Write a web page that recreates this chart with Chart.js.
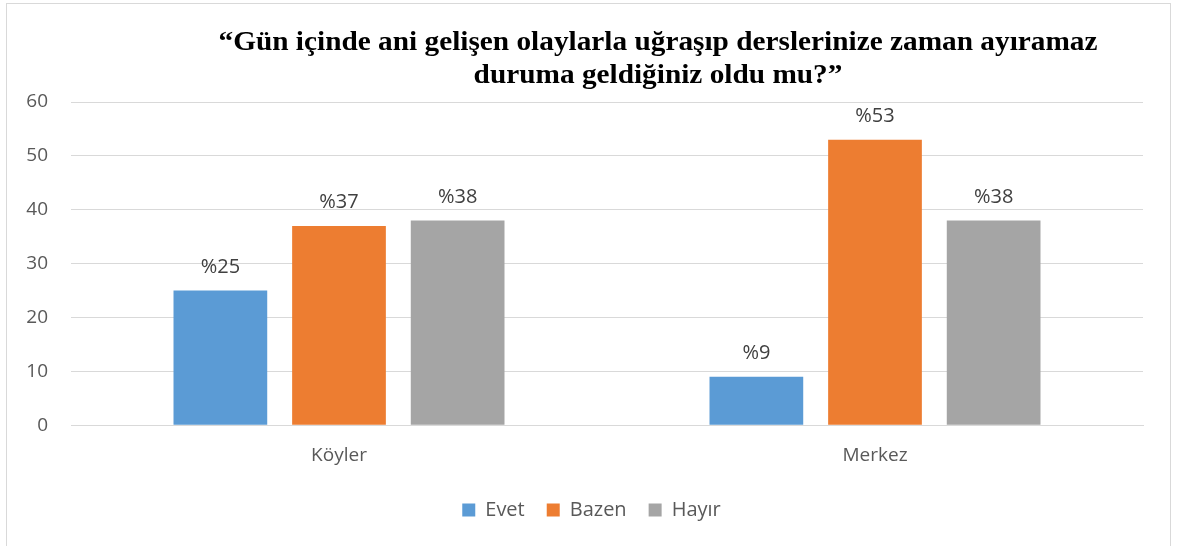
<!DOCTYPE html>
<html>
<head>
<meta charset="utf-8">
<script src="https://cdn.jsdelivr.net/npm/chart.js@4/dist/chart.umd.min.js"></script>
<style>
  html, body { margin: 0; padding: 0; background: #ffffff; }
  #wrap { position: relative; width: 1177px; height: 546px; }
  #frame { position: absolute; left: 6px; top: 3px; width: 1165px; height: 560px; border: 1px solid #d9d9d9; box-sizing: border-box; }
  canvas { position: absolute; left: 0; top: 0; }
</style>
</head>
<body>
<div id="wrap">
  <div id="frame"></div>
  <canvas id="chart" width="1177" height="546"></canvas>
</div>
<script>
// chart data
const categories = ["Köyler", "Merkez"];
const seriesNames = ["Evet", "Bazen", "Hayır"];
const evetValues = [25, 9];
const bazenValues = [37, 53];
const hayirValues = [38, 38];
const seriesColors = ["#5b9bd5", "#ed7d31", "#a5a5a5"];
const titleLines = [
    "“Gün içinde ani gelişen olaylarla uğraşıp derslerinize zaman ayıramaz",
    "duruma geldiğiniz oldu mu?”"
];

const labelFont = "'Open Sans', sans-serif";

// Title drawn a bit right of centre, slightly wide like the original
const titlePlugin = {
    id: "offsetTitle",
    afterDraw(chart) {
        const ctx = chart.ctx;
        ctx.save();
        ctx.font = "bold 27px 'Liberation Serif', 'Times New Roman', serif";
        ctx.fillStyle = "#000000";
        ctx.textAlign = "center";
        ctx.textBaseline = "alphabetic";
        const stretch = 879 / ctx.measureText(titleLines[0]).width;
        ctx.translate(658, 0);
        ctx.scale(stretch, 1);
        ctx.fillText(titleLines[0], 0, 50);
        ctx.fillText(titleLines[1], 0, 83);
        ctx.restore();
    }
};

// "%25" style labels on top of each bar
const valueLabels = {
    id: "valueLabels",
    afterDatasetsDraw(chart) {
        const ctx = chart.ctx;
        ctx.save();
        ctx.font = "20px " + labelFont;
        ctx.fillStyle = "#404040";
        ctx.textAlign = "center";
        ctx.textBaseline = "alphabetic";
        chart.data.datasets.forEach((ds, i) => {
            chart.getDatasetMeta(i).data.forEach((bar, j) => {
                ctx.fillText("%" + ds.data[j], bar.x, bar.y - 18);
            });
        });
        ctx.restore();
    }
};

// legend sits a little right of the canvas centre in the original
const legendShift = {
    id: "legendShift",
    afterLayout(chart) {
        chart.legend.left += 20;
        chart.legend.right += 20;
    }
};

const chart = new Chart(document.getElementById("chart"), {
    type: "bar",
    data: {
        labels: categories,
        datasets: [
            { label: seriesNames[0], data: evetValues, backgroundColor: seriesColors[0] },
            { label: seriesNames[1], data: bazenValues, backgroundColor: seriesColors[1] },
            { label: seriesNames[2], data: hayirValues, backgroundColor: seriesColors[2] }
        ]
    },
    options: {
        responsive: false,
        animation: false,
        categoryPercentage: 0.664,
        barPercentage: 0.79,
        layout: { padding: { top: 102, right: 34, bottom: 16, left: 0 } },
        plugins: {
            title: { display: false },
            tooltip: { enabled: false },
            legend: {
                position: "bottom",
                labels: {
                    boxWidth: 13,
                    boxHeight: 13,
                    padding: 22,
                    color: "#595959",
                    font: { family: labelFont, size: 20 }
                }
            }
        },
        scales: {
            x: {
                grid: { display: false },
                border: { display: true, color: "#d9d9d9" },
                ticks: {
                    color: "#595959",
                    padding: 11,
                    font: { family: labelFont, size: 19 }
                }
            },
            y: {
                min: 0,
                max: 60,
                afterFit(axis) { axis.width = 71; },
                grid: { color: "#d9d9d9", drawTicks: false },
                border: { display: false },
                ticks: {
                    stepSize: 10,
                    color: "#595959",
                    padding: 23,
                    font: { family: labelFont, size: 19 }
                }
            }
        }
    },
    plugins: [titlePlugin, valueLabels, legendShift]
});
</script>
</body>
</html>
